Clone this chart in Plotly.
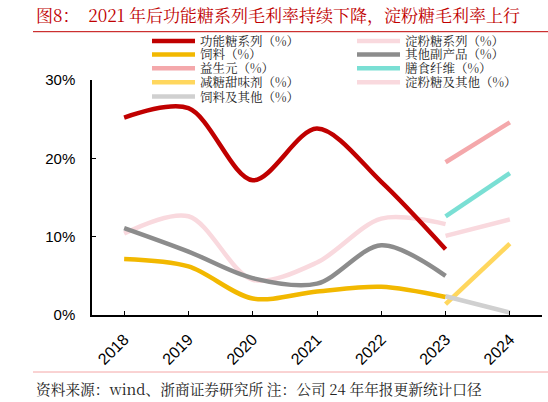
import plotly.graph_objects as go

# années
annees = ["2018", "2019", "2020", "2021", "2022", "2023", "2024"]

# séries 2018-2023 (%)
gongneng = [25.2, 26.4, 17.2, 23.8, 17.0, 8.4]
dianfen = [10.4, 12.6, 4.5, 6.7, 12.3, 11.6]
siliao = [7.15, 6.2, 2.1, 3.0, 3.6, 2.3]
fuchanpin = [11.1, 8.1, 4.7, 4.0, 8.9, 5.0]

# nouvelles séries 2023-2024 (%)
yishengyuan = [19.5, 24.6]
shanshi = [12.6, 18.1]
jiantang = [1.4, 9.1]
dianfen_qita = [10.1, 12.2]
siliao_qita = [2.4, 0.3]

noms = ["功能糖系列（%）", "淀粉糖系列（%）", "饲料（%）", "其他副产品（%）",
        "益生元（%）", "膳食纤维（%）", "减糖甜味剂（%）", "淀粉糖及其他（%）",
        "饲料及其他（%）"]
couleurs = ["#C00000", "#F9D9DE", "#F2B800", "#8C8C8C",
            "#F4A8AB", "#7ADFD4", "#FFD75E", "#F9D9DE", "#D0D0D0"]
valeurs = [gongneng, dianfen, siliao, fuchanpin,
           yishengyuan, shanshi, jiantang, dianfen_qita, siliao_qita]

# ordre de dessin (le rouge au-dessus)
ordre = [1, 3, 2, 0, 4, 5, 7, 6, 8]

fig = go.Figure()
for i in ordre:
    v = valeurs[i]
    if len(v) == 6:
        x = annees[:6]
        forme = "spline"
    else:
        x = annees[5:]
        forme = "linear"
    fig.add_trace(go.Scatter(x=x, y=v, mode="lines", name=noms[i], showlegend=False,
                             line=dict(color=couleurs[i], width=4.5, shape=forme, smoothing=0.9)))

# marges en pixels
L, R, T, B = 92, 6, 80, 87
W, H = 548, 402
pw, ph = W - L - R, H - T - B

def px(x):
    return (x - L) / pw

def py(y):
    return (H - B - y) / ph

# légende faite à la main (2 colonnes)
cols = [152, 357]
lignes = [41, 54.5, 68.3, 82.2, 96.5]
for k, nom in enumerate(noms):
    cx = cols[k % 2]
    cy = lignes[k // 2]
    fig.add_shape(type="line", xref="paper", yref="paper",
                  x0=px(cx), x1=px(cx + 43), y0=py(cy), y1=py(cy),
                  line=dict(color=couleurs[k], width=4.5))
    fig.add_annotation(xref="paper", yref="paper", x=px(cx + 47), y=py(cy),
                       text=nom, showarrow=False, xanchor="left", yanchor="middle",
                       borderpad=0,
                       font=dict(size=12.5, color="#222222",
                                 family="Noto Serif CJK SC, Noto Sans CJK SC"))

# titre + filets
fig.add_annotation(xref="paper", yref="paper", x=px(34), y=py(14),
                   text="图8：  2021 年后功能糖系列毛利率持续下降，淀粉糖毛利率上行",
                   showarrow=False, xanchor="left", yanchor="middle",
                   font=dict(size=17, color="#C00000",
                             family="Noto Serif CJK SC, Noto Sans CJK SC"))
fig.add_shape(type="line", xref="paper", yref="paper", x0=px(33), x1=px(548),
              y0=py(31.7), y1=py(31.7), line=dict(color="#C00000", width=1))
fig.add_shape(type="line", xref="paper", yref="paper", x0=px(33), x1=px(548),
              y0=py(372), y1=py(372), line=dict(color="#F4A6A6", width=1))
fig.add_annotation(xref="paper", yref="paper", x=px(34), y=py(388.7),
                   text="资料来源：wind、浙商证券研究所 注：公司 24 年年报更新统计口径",
                   showarrow=False, xanchor="left", yanchor="middle",
                   font=dict(size=14.7, color="#222222",
                             family="Noto Serif CJK SC, Noto Sans CJK SC"))

fig.update_layout(
    width=W, height=H,
    margin=dict(l=L, r=R, t=T, b=B),
    plot_bgcolor="white", paper_bgcolor="white",
    font=dict(family="Liberation Sans, Arial", size=15, color="black"),
)

fig.update_xaxes(type="category", categoryorder="array", categoryarray=annees,
                 range=[-0.5, 6.5], showline=True, linecolor="black", linewidth=1.5,
                 ticks="inside", ticklen=4, tickcolor="black", tickangle=-45,
                 showgrid=False, ticklabelstandoff=7, tickfont=dict(size=16))
fig.update_yaxes(range=[0, 30], tickvals=[0, 10, 20, 30],
                 ticktext=["0%", "10%", "20%", "30%"],
                 showline=True, linecolor="black", linewidth=1.5,
                 ticks="inside", ticklen=4, tickcolor="black",
                 showgrid=False, zeroline=False, ticklabelstandoff=12,
                 tickfont=dict(size=15))

# pas de marge autour de la page, pas de barre d'outils
fig.write_html("out.html", config={"displayModeBar": False},
               post_script="document.body.style.margin='0';")
